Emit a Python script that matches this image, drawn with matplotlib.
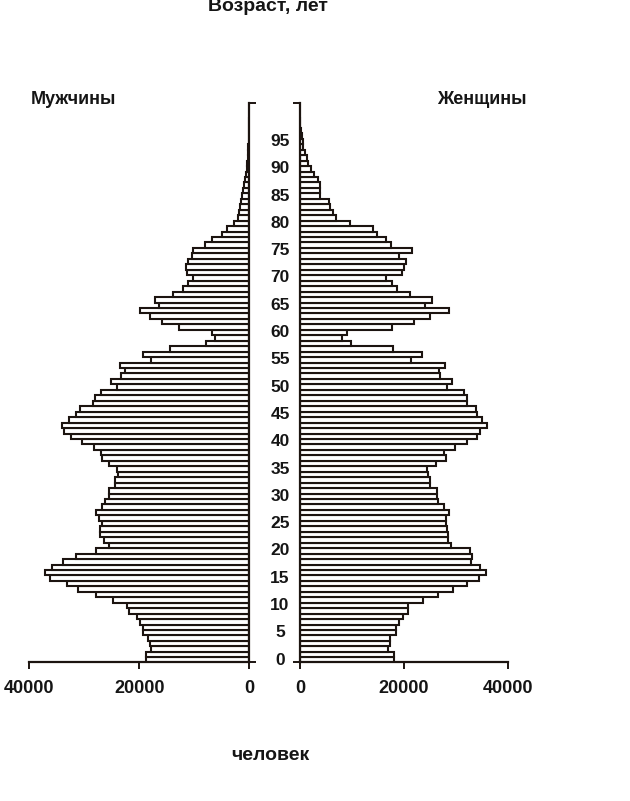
import matplotlib
matplotlib.use("Agg")
import matplotlib.pyplot as plt
import matplotlib.transforms as mtransforms
import numpy as np

plt.rcParams['font.family'] = ['Liberation Sans', 'DejaVu Sans']

ages = list(range(100))

men = [18800, 18700, 17800, 18100, 18400, 19300, 19400, 19900, 20500, 21800,
       22300, 24700, 27800, 31100, 33200, 36200, 37100, 35900, 33800, 31500,
       27900, 25600, 26400, 27100, 27100, 26700, 27300, 27900, 26800, 26200,
       25600, 25600, 24400, 24400, 23800, 24000, 25500, 26800, 27000, 28200,
       30500, 32500, 33700, 34100, 32700, 31500, 30700, 28400, 28100, 27000,
       24000, 25200, 23400, 22600, 23600, 17900, 19400, 14400, 7800, 6200,
       6700, 12800, 15900, 18100, 19900, 16500, 17100, 13800, 12100, 11100,
       10200, 11400, 11500, 11100, 10500, 10300, 8000, 6700, 5000, 4000,
       2800, 2000, 1800, 1600, 1450, 1300, 1100, 950, 800, 650,
       500, 400, 320, 250, 180, 130, 90, 60, 40, 20]

women = [18100, 18100, 17000, 17300, 17300, 18500, 18500, 19100, 19900, 20800,
         20800, 23700, 26600, 29500, 32200, 34500, 35900, 34600, 33000, 33200,
         32800, 29000, 28500, 28500, 28300, 28200, 28100, 28700, 27700, 26600,
         26300, 26300, 25000, 25000, 24700, 24500, 26200, 28200, 27700, 29800,
         32200, 34000, 34700, 36000, 35100, 34100, 33900, 32100, 32200, 31600,
         28300, 29300, 27000, 26700, 28000, 21300, 23500, 17900, 9900, 8000,
         9000, 17800, 22000, 25100, 28700, 24000, 25400, 21200, 18600, 17800,
         16500, 19700, 20000, 20500, 19100, 21600, 17600, 16500, 14900, 14000,
         9700, 6900, 6400, 5800, 5600, 3800, 3800, 3800, 3500, 2600,
         2200, 1600, 1300, 1000, 640, 510, 380, 130, 60, 30]

age_labels = [0, 5, 10, 15, 20, 25, 30, 35, 40, 45, 50, 55, 60, 65, 70, 75, 80, 85, 90, 95]
x_ticks = [0, 20000, 40000]

W, H = 630, 801
fig = plt.figure(figsize=(W / 100, H / 100), dpi=100)

y0 = 1 - 661.7 / H
y1 = 1 - 103.3 / H
axL = fig.add_axes([29.3 / W, y0, 220 / W, y1 - y0])
axR = fig.add_axes([300 / W, y0, 207.7 / W, y1 - y0])

edge = '#1c1410'
txt = '#151515'
ylim = (-0.3, 102)

axL.barh(ages, men, height=1.0, color='white', edgecolor=edge, linewidth=1.5)
axR.barh(ages, women, height=1.0, color='white', edgecolor=edge, linewidth=1.5)

for ax in (axL, axR):
    ax.set_ylim(*ylim)
    ax.set_xticks(x_ticks)
    ax.set_xticklabels([f"{v}" for v in x_ticks], fontsize=13, fontweight='bold')
    ax.set_yticks(list(ylim))
    ax.set_yticklabels([])
    ax.tick_params(axis='x', direction='out', length=5, width=1.4, pad=8, colors=edge, labelcolor=txt)
    ax.tick_params(axis='y', direction='out', length=5, width=1.4, colors=edge)
    for s in ax.spines.values():
        s.set_linewidth(1.6)
        s.set_color(edge)

axL.set_xlim(40000, 0)
axR.set_xlim(0, 40000)
axL.spines['left'].set_visible(False)
axL.spines['top'].set_visible(False)
axL.yaxis.tick_right()
axR.spines['right'].set_visible(False)
axR.spines['top'].set_visible(False)
axR.yaxis.tick_left()
axL.spines['bottom'].set_bounds(40000, 0)
axR.spines['bottom'].set_bounds(0, 40000)

trans = mtransforms.blended_transform_factory(fig.transFigure, axL.transData)
for a in age_labels:
    fig.text(280 / W, a, str(a), transform=trans, ha='center', va='center',
             fontsize=12.5, fontweight='bold', color=txt)

fig.text(73.5 / W, 1 - 100 / H, "Мужчины", ha='center', va='center', fontsize=13, fontweight='bold', color=txt)
fig.text(481.7 / W, 1 - 100 / H, "Женщины", ha='center', va='center', fontsize=13, fontweight='bold', color=txt)
fig.text(268 / W, 1 - 10.7 / H, "Возраст, лет", ha='center', va='baseline', fontsize=14, fontweight='bold', color=txt)
fig.text(270.5 / W, 1 - 756 / H, "человек", ha='center', va='center', fontsize=14, fontweight='bold', color=txt)

fig.savefig("out.png", dpi=100)
